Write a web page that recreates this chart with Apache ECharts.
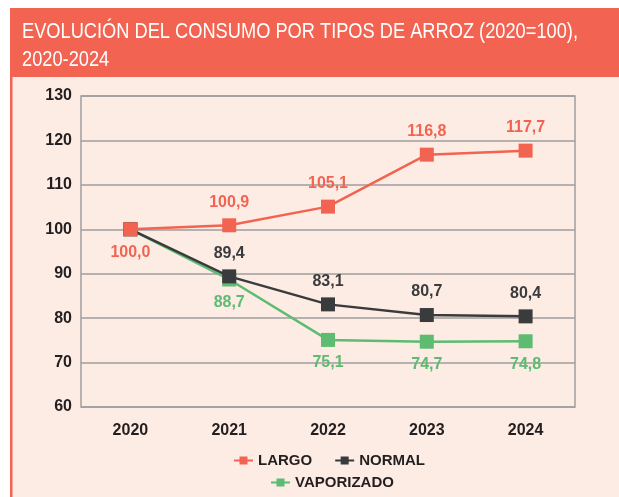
<!DOCTYPE html>
<html>
<head>
<meta charset="utf-8">
<script src="https://cdn.jsdelivr.net/npm/echarts@6/dist/echarts.min.js"></script>
<style>
  html, body { margin: 0; padding: 0; background: #ffffff; }
  #chart { width: 619px; height: 497px; }
</style>
</head>
<body>
<div id="chart"></div>
<script>
const years = ['2020', '2021', '2022', '2023', '2024'];
const largo = [100.0, 100.9, 105.1, 116.8, 117.7];
const normal = [100.0, 89.4, 83.1, 80.7, 80.4];
const vaporizado = [100.0, 88.7, 75.1, 74.7, 74.8];
const yTicks = [60, 70, 80, 90, 100, 110, 120, 130];
const titleLines = ['EVOLUCIÓN DEL CONSUMO POR TIPOS DE ARROZ (2020=100),', '2020-2024'];

const RED = '#f26451';
const DARK = '#3a3b3d';
const GREEN = '#5dbb72';
const PALE = '#fdece4';
const TXT = '#231f20';
const FONT = "'Liberation Sans', Arial, sans-serif";

const fmt = p => p.value.toFixed(1).replace('.', ',');

// the title is a condensed face in the original: squeeze Liberation Sans to the same width
const ctx = document.createElement('canvas').getContext('2d');
ctx.font = '22px ' + FONT;
const titleScale = 556 / ctx.measureText(titleLines[0]).width;

// the first point of NORMAL and VAPORIZADO sits under the LARGO one, no label there
function points(values, hideFirst) {
  return values.map((v, i) => (i === 0 && hideFirst) ? { value: v, label: { show: false } } : v);
}

function lineSeries(name, color, values, pos, hideFirst, z) {
  return {
    name: name,
    type: 'line',
    data: points(values, hideFirst),
    z: z,
    symbol: 'rect',
    symbolSize: 14,
    lineStyle: { color: color, width: 2.5 },
    itemStyle: { color: color },
    label: {
      show: true,
      position: pos,
      distance: 8,
      formatter: fmt,
      color: color,
      fontFamily: FONT,
      fontWeight: 'bold',
      fontSize: 16
    },
    emphasis: { disabled: true }
  };
}

const largoSeries = lineSeries('LARGO', RED, largo, 'top', false, 5);
largoSeries.data = largo.map((v, i) => i === 0 ? { value: v, label: { position: 'bottom' } } : v);

const legendText = { color: TXT, fontFamily: FONT, fontWeight: 'bold', fontSize: 15 };

const myChart = echarts.init(document.getElementById('chart'));
const option = {
  animation: false,
  backgroundColor: '#ffffff',
  graphic: [
    { type: 'rect', z: -10, shape: { x: 10, y: 8, width: 609, height: 489 }, style: { fill: PALE } },
    { type: 'rect', z: -9, shape: { x: 10, y: 8, width: 609, height: 69 }, style: { fill: RED } },
    { type: 'rect', z: -9, shape: { x: 10, y: 77, width: 2.5, height: 420 }, style: { fill: RED } },
    {
      type: 'text', z: 10, x: 22, y: 18, scaleX: titleScale,
      style: {
        text: titleLines.join('\n'),
        fill: '#ffffff',
        font: '22px ' + FONT,
        lineHeight: 28
      }
    }
  ],
  legend: [
    {
      data: ['LARGO', 'NORMAL'],
      left: 228,
      top: 448,
      itemWidth: 19,
      itemHeight: 10,
      itemGap: 22,
      textStyle: legendText
    },
    {
      data: ['VAPORIZADO'],
      left: 265,
      top: 470,
      itemWidth: 19,
      itemHeight: 10,
      textStyle: legendText
    }
  ],
  grid: {
    left: 81,
    right: 44,
    top: 96,
    bottom: 90,
    show: true,
    borderColor: '#9e9e9e',
    borderWidth: 1.5,
    backgroundColor: 'transparent'
  },
  xAxis: {
    type: 'category',
    data: years,
    boundaryGap: true,
    axisLine: { show: false },
    axisTick: { show: false },
    axisLabel: { margin: 16, color: TXT, fontFamily: FONT, fontWeight: 'bold', fontSize: 16 }
  },
  yAxis: {
    type: 'value',
    min: yTicks[0],
    max: yTicks[yTicks.length - 1],
    interval: 10,
    axisLine: { show: false },
    axisTick: { show: false },
    splitLine: { lineStyle: { color: '#9e9e9e', width: 1.5 } },
    axisLabel: { margin: 9, color: TXT, fontFamily: FONT, fontWeight: 'bold', fontSize: 16 }
  },
  series: [
    largoSeries,
    lineSeries('NORMAL', DARK, normal, 'top', true, 4),
    lineSeries('VAPORIZADO', GREEN, vaporizado, 'bottom', true, 3)
  ]
};
myChart.setOption(option);
</script>
</body>
</html>
